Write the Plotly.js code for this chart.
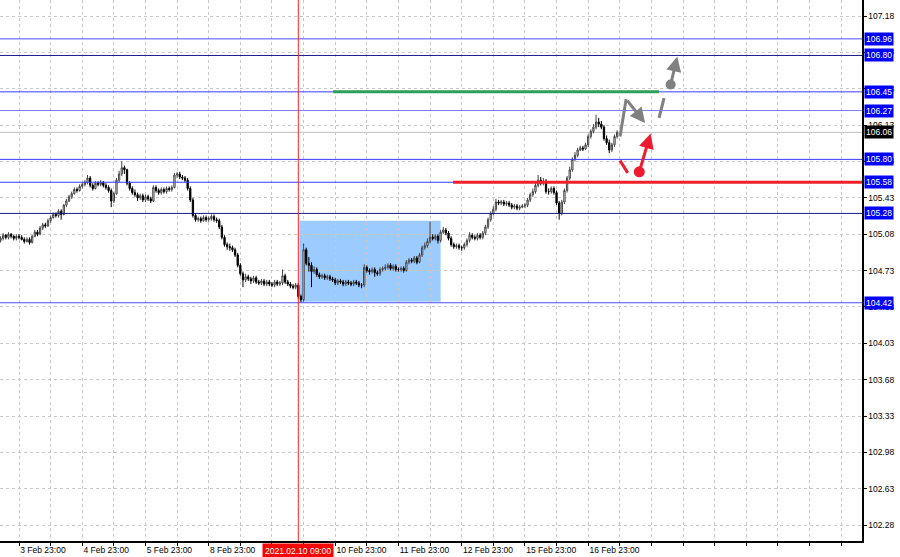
<!DOCTYPE html>
<html><head><meta charset="utf-8">
<script src="https://cdn.plot.ly/plotly-3.0.1.min.js"></script>
<style>html,body{margin:0;padding:0;background:#fff}#chart{width:900px;height:557px}</style>
</head><body><div id="chart"></div>
<script>
// Hourly bars, index 0 = 3 Feb 23:00 (weekends skipped)
const FIRST_BAR = -7;
const open = [
105.02,105.04,105.07,105.05,105.08,105.06,105.04,
105.06,105.05,105.03,105.01,105.03,105.00,105.06,105.10,105.08,105.14,105.17,105.16,
105.21,105.24,105.27,105.26,105.30,105.27,105.36,105.40,105.44,105.47,105.51,105.50,
105.54,105.56,105.58,105.62,105.55,105.52,105.57,105.56,105.58,105.55,105.53,105.50,
105.40,105.47,105.60,105.66,105.72,105.70,105.57,105.52,105.48,105.46,105.43,105.45,
105.41,105.44,105.42,105.40,105.53,105.50,105.48,105.51,105.49,105.52,105.51,105.53,
105.65,105.66,105.63,105.62,105.60,105.52,105.41,105.26,105.22,105.23,105.21,105.24,
105.22,105.23,105.25,105.22,105.21,105.15,105.05,104.98,104.96,104.95,104.93,104.88,
104.78,104.70,104.64,104.67,104.65,104.63,104.66,104.62,104.61,104.63,104.60,104.62,
104.60,104.59,104.62,104.60,104.61,104.68,104.62,104.60,104.58,104.57,104.59,104.48,
104.45,104.93,104.80,104.78,104.72,104.74,104.69,104.67,104.68,104.66,104.67,104.65,
104.64,104.61,104.63,104.62,104.60,104.62,104.61,104.60,104.62,104.61,104.59,104.59,
104.76,104.73,104.72,104.74,104.71,104.70,104.74,104.75,104.76,104.78,104.75,104.77,
104.74,104.74,104.75,104.73,104.81,104.83,104.82,104.85,104.81,104.88,104.95,104.97,
105.01,105.05,105.04,105.06,105.02,105.10,105.12,105.09,105.04,104.98,104.96,104.97,
104.95,104.95,104.98,105.02,105.07,105.05,105.04,105.07,105.05,105.09,105.15,105.22,
105.28,105.32,105.39,105.38,105.39,105.37,105.38,105.36,105.34,105.35,105.33,105.34,
105.35,105.36,105.41,105.46,105.49,105.55,105.60,105.57,105.59,105.49,105.49,105.52,
105.48,105.38,105.28,105.39,105.50,105.62,105.70,105.80,105.84,105.89,105.91,105.90,
105.94,106.02,106.07,106.11,106.16,106.14,106.11,106.00,105.96,105.89,105.94,106.02];
const high = [
105.06,105.09,105.08,105.10,105.09,105.07,105.08,
105.08,105.07,105.05,105.05,105.05,105.07,105.12,105.12,105.16,105.19,105.19,105.23,
105.26,105.29,105.29,105.32,105.32,105.37,105.42,105.46,105.49,105.53,105.53,105.56,
105.58,105.60,105.65,105.64,105.57,105.59,105.59,105.60,105.59,105.57,105.55,105.52,
105.49,105.62,105.69,105.78,105.74,105.71,105.59,105.54,105.51,105.48,105.47,105.47,
105.46,105.46,105.44,105.55,105.55,105.52,105.53,105.53,105.54,105.54,105.55,105.67,
105.68,105.68,105.65,105.64,105.62,105.54,105.43,105.28,105.25,105.25,105.26,105.26,
105.25,105.27,105.27,105.24,105.23,105.17,105.07,105.00,104.99,104.97,104.95,104.90,
104.80,104.72,104.70,104.69,104.67,104.68,104.68,104.64,104.65,104.65,104.64,104.64,
104.62,104.64,104.64,104.63,104.74,104.70,104.64,104.62,104.60,104.61,104.61,104.50,
104.99,104.95,104.86,104.81,104.77,104.76,104.71,104.70,104.70,104.69,104.69,104.67,
104.66,104.65,104.65,104.64,104.64,104.64,104.63,104.64,104.64,104.63,104.61,104.79,
104.78,104.75,104.76,104.76,104.73,104.76,104.77,104.79,104.80,104.80,104.79,104.79,
104.76,104.77,104.77,104.83,104.85,104.85,104.87,104.87,104.90,104.97,105.00,105.04,
105.20,105.08,105.08,105.08,105.12,105.15,105.14,105.11,105.06,105.00,104.99,104.99,
104.97,105.00,105.04,105.10,105.09,105.07,105.09,105.09,105.11,105.17,105.24,105.30,
105.35,105.42,105.41,105.41,105.41,105.40,105.40,105.38,105.37,105.37,105.36,105.37,
105.38,105.43,105.48,105.52,105.57,105.65,105.63,105.62,105.61,105.52,105.54,105.54,
105.50,105.40,105.41,105.52,105.64,105.73,105.82,105.87,105.91,105.93,105.93,105.96,
106.04,106.09,106.14,106.23,106.20,106.17,106.13,106.03,105.99,105.96,106.04,106.08];
const low = [
105.00,105.02,105.03,105.03,105.04,105.02,105.02,
105.03,105.02,104.99,105.00,104.98,104.99,105.05,105.06,105.07,105.12,105.14,105.15,
105.19,105.23,105.24,105.24,105.22,105.26,105.34,105.39,105.42,105.46,105.48,105.49,
105.52,105.54,105.56,105.53,105.50,105.51,105.54,105.54,105.53,105.51,105.48,105.34,
105.38,105.46,105.58,105.64,105.66,105.55,105.50,105.46,105.44,105.40,105.41,105.39,
105.39,105.40,105.38,105.39,105.48,105.46,105.46,105.47,105.47,105.49,105.49,105.52,
105.62,105.61,105.60,105.58,105.50,105.39,105.24,105.20,105.20,105.19,105.20,105.20,
105.20,105.21,105.20,105.19,105.13,105.03,104.96,104.93,104.92,104.91,104.86,104.76,
104.68,104.57,104.62,104.63,104.60,104.61,104.60,104.59,104.59,104.58,104.58,104.58,
104.57,104.57,104.58,104.58,104.59,104.60,104.58,104.56,104.55,104.55,104.46,104.42,
104.43,104.78,104.72,104.57,104.70,104.67,104.65,104.65,104.64,104.64,104.63,104.62,
104.59,104.59,104.60,104.58,104.58,104.59,104.58,104.58,104.59,104.57,104.56,104.57,
104.71,104.69,104.70,104.67,104.68,104.68,104.72,104.73,104.74,104.73,104.73,104.72,
104.72,104.72,104.71,104.72,104.79,104.80,104.80,104.79,104.80,104.86,104.93,104.95,
104.99,105.02,105.02,104.99,105.00,105.08,105.07,105.02,104.96,104.94,104.94,104.93,
104.92,104.93,104.96,105.00,105.03,105.02,105.02,105.03,105.03,105.07,105.13,105.20,
105.26,105.30,105.36,105.36,105.35,105.35,105.34,105.32,105.32,105.31,105.31,105.33,
105.33,105.34,105.39,105.44,105.47,105.53,105.55,105.55,105.47,105.46,105.47,105.46,
105.36,105.22,105.26,105.37,105.48,105.60,105.68,105.78,105.82,105.88,105.88,105.89,
105.92,106.00,106.05,106.09,106.11,106.09,105.98,105.94,105.86,105.87,105.92,106.00];
const close = [
105.04,105.07,105.05,105.08,105.06,105.04,105.06,
105.05,105.03,105.01,105.03,105.00,105.06,105.10,105.08,105.14,105.17,105.16,105.21,
105.24,105.27,105.26,105.30,105.27,105.36,105.40,105.44,105.47,105.51,105.50,105.54,
105.56,105.58,105.62,105.55,105.52,105.57,105.56,105.58,105.55,105.53,105.50,105.40,
105.47,105.60,105.66,105.72,105.70,105.57,105.52,105.48,105.46,105.43,105.45,105.41,
105.44,105.42,105.40,105.53,105.50,105.48,105.51,105.49,105.52,105.51,105.53,105.65,
105.66,105.63,105.62,105.60,105.52,105.41,105.26,105.22,105.23,105.21,105.24,105.22,
105.23,105.25,105.22,105.21,105.15,105.05,104.98,104.96,104.95,104.93,104.88,104.78,
104.70,104.64,104.67,104.65,104.63,104.66,104.62,104.61,104.63,104.60,104.62,104.60,
104.59,104.62,104.60,104.61,104.68,104.62,104.60,104.58,104.57,104.59,104.48,104.45,
104.93,104.80,104.78,104.72,104.74,104.69,104.67,104.68,104.66,104.67,104.65,104.64,
104.61,104.63,104.62,104.60,104.62,104.61,104.60,104.62,104.61,104.59,104.59,104.76,
104.73,104.72,104.74,104.71,104.70,104.74,104.75,104.76,104.78,104.75,104.77,104.74,
104.74,104.75,104.73,104.81,104.83,104.82,104.85,104.81,104.88,104.95,104.97,105.01,
105.05,105.04,105.06,105.02,105.10,105.12,105.09,105.04,104.98,104.96,104.97,104.95,
104.95,104.98,105.02,105.07,105.05,105.04,105.07,105.05,105.09,105.15,105.22,105.28,
105.32,105.39,105.38,105.39,105.37,105.38,105.36,105.34,105.35,105.33,105.34,105.35,
105.36,105.41,105.46,105.49,105.55,105.60,105.57,105.59,105.49,105.49,105.52,105.48,
105.38,105.28,105.39,105.50,105.62,105.70,105.80,105.84,105.89,105.91,105.90,105.94,
106.02,106.07,106.11,106.16,106.14,106.11,106.00,105.96,105.89,105.94,106.02,106.06];

const dayLabels = ['3 Feb 23:00','4 Feb 23:00','5 Feb 23:00','8 Feb 23:00','9 Feb 23:00',
  '10 Feb 23:00','11 Feb 23:00','12 Feb 23:00','15 Feb 23:00','16 Feb 23:00'];
const markerLabel = '2021.02.10 09:00';
const markerBar = 106;               // 10 Feb 09:00
const levelPrices = [106.96, 106.80, 106.45, 106.27, 105.80, 105.58, 105.28, 104.42];
const currentPrice = 106.06;
const zoneBars = [106.4, 160.0];
const zonePrices = [104.43, 105.21];
const greenBars = [119.2, 242.9];
const greenPrice = 106.45;
const redBarStart = 164.7;
const redPrice = 105.58;
// forecast sketches (bar, price)
const grayLineX = [228.1, 230.4];  const grayLineY = [106.02, 106.38];
const grayArrowTip = [237.6, 106.15];
const grayDashX = [242.9, 244.8]; const grayDashY = [106.20, 106.39];
const grayDot = [247.3, 106.52];  const grayDotTip = [249.8, 106.79];
const redLineX = [228.1, 231.0];  const redLineY = [105.79, 105.67];
const redDot = [235.4, 105.68];   const redDotTip = [239.7, 106.05];

// ---- styles ----
const FONT = 'Liberation Sans, Arial, sans-serif';
const levelColors = ['#4b4bff','#1a1a8c','#3a3aff','#7a7aff','#3a3aff','#3a3aff','#1a1a8c','#4b4bff'];
const XR = [-7.21, 319.92], YR = [102.127, 107.334];

const x = close.map((_, k) => k + FIRST_BAR);
const tickvals = [], ticktext = [];
for (let b = 0; b <= 312; b += 12) {
  tickvals.push(b);
  const k = b / 24;
  ticktext.push(b % 24 === 0 && k < dayLabels.length ? dayLabels[k] : '');
}

const traces = [
  {type:'candlestick', x, open, high, low, close, whiskerwidth:0, hoverinfo:'skip',
   increasing:{line:{color:'#444', width:1}, fillcolor:'#ffffff'},
   decreasing:{line:{color:'#000', width:1}, fillcolor:'#000000'}, showlegend:false},
  {type:'scatter', mode:'lines', x:grayLineX, y:grayLineY, line:{color:'#808080', width:3}, showlegend:false},
  {type:'scatter', mode:'lines', x:grayDashX, y:grayDashY, line:{color:'#808080', width:3}, showlegend:false},
  {type:'scatter', mode:'markers', x:[grayDot[0]], y:[grayDot[1]], marker:{color:'#808080', size:10}, showlegend:false},
  {type:'scatter', mode:'lines', x:redLineX, y:redLineY, line:{color:'#ee1c2e', width:3}, showlegend:false},
  {type:'scatter', mode:'markers', x:[redDot[0]], y:[redDot[1]], marker:{color:'#ee1c2e', size:11}, showlegend:false}
];

const shapes = [
  {type:'rect', xref:'x', yref:'y', x0:zoneBars[0], x1:zoneBars[1], y0:zonePrices[0], y1:zonePrices[1],
   fillcolor:'#9ccbff', line:{width:0}, layer:'below'},
  {type:'line', xref:'paper', yref:'y', x0:0, x1:1, y0:currentPrice, y1:currentPrice, line:{color:'#c0c0c0', width:1}, layer:'below'}
];
levelPrices.forEach((p, k) => shapes.push({type:'line', xref:'paper', yref:'y', x0:0, x1:1, y0:p, y1:p,
  line:{color:levelColors[k], width:1}}));
shapes.push({type:'line', xref:'x', yref:'y', x0:greenBars[0], x1:greenBars[1], y0:greenPrice, y1:greenPrice, line:{color:'#2ca05a', width:3}});
shapes.push({type:'line', xref:'x', yref:'y', x0:redBarStart, x1:XR[1], y0:redPrice, y1:redPrice, line:{color:'#f0202a', width:3}});
shapes.push({type:'line', xref:'x', yref:'paper', x0:markerBar, x1:markerBar, y0:0, y1:1, line:{color:'#ff2020', width:1}});

const annotations = [];
levelPrices.forEach(p => annotations.push({xref:'paper', yref:'y', x:1, y:p, xanchor:'left', yanchor:'middle', xshift:2,
  text:p.toFixed(2), showarrow:false, bgcolor:'#0000ff', borderpad:1, font:{family:FONT, size:8.5, color:'#ffffff'}}));
annotations.push({xref:'paper', yref:'y', x:1, y:currentPrice, xanchor:'left', yanchor:'middle', xshift:2,
  text:currentPrice.toFixed(2), showarrow:false, bgcolor:'#000000', borderpad:1, font:{family:FONT, size:8.5, color:'#ffffff'}});
annotations.push({xref:'x', yref:'paper', x:markerBar, y:0, yanchor:'top', yshift:-2, text:markerLabel, showarrow:false,
  bgcolor:'#ff0000', borderpad:2, font:{family:FONT, size:8.5, color:'#ffffff'}});
const arrow = (tail, tip, color) => ({xref:'x', yref:'y', axref:'x', ayref:'y', x:tip[0], y:tip[1], ax:tail[0], ay:tail[1],
  showarrow:true, arrowhead:2, arrowsize:1, arrowwidth:3, arrowcolor:color, text:''});
annotations.push(arrow([grayLineX[1], grayLineY[1]], grayArrowTip, '#808080'));
annotations.push(arrow(grayDot, grayDotTip, '#808080'));
annotations.push(arrow(redDot, redDotTip, '#ee1c2e'));

const layout = {
  width:900, height:557, margin:{l:0, r:38, t:0, b:16}, paper_bgcolor:'#ffffff', plot_bgcolor:'#ffffff',
  font:{family:FONT, size:8.5, color:'#000'}, showlegend:false,
  xaxis:{range:XR, tickmode:'array', tickvals, ticktext, ticklabelposition:'outside right',
    showgrid:true, gridcolor:'#c8c8c8', griddash:'3px,3px', gridwidth:1, zeroline:false,
    showline:true, linecolor:'#000', linewidth:1.5, ticks:'outside', ticklen:3, tickcolor:'#000',
    rangeslider:{visible:false}, fixedrange:true, tickfont:{family:FONT, size:8.5, color:'#000'}},
  yaxis:{range:YR, side:'right', tick0:102.28, dtick:0.35, tickformat:'.2f',
    showgrid:true, gridcolor:'#c8c8c8', griddash:'3px,3px', gridwidth:1, zeroline:false,
    showline:true, linecolor:'#000', linewidth:1.5, ticks:'outside', ticklen:3, tickcolor:'#000',
    fixedrange:true, tickfont:{family:FONT, size:8.5, color:'#000'}},
  shapes, annotations
};
Plotly.newPlot('chart', traces, layout, {displayModeBar:false, staticPlot:true});
</script></body></html>
